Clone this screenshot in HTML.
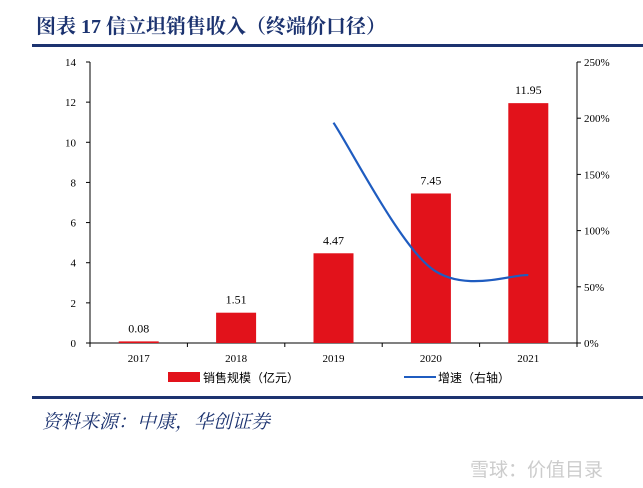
<!DOCTYPE html>
<html><head><meta charset="utf-8"><style>
body{margin:0;width:643px;height:488px;background:#fff;overflow:hidden;position:relative;font-family:"Liberation Serif","Noto Serif CJK SC",serif}
.t{position:absolute;left:36px;top:10px;font-size:20px;font-weight:bold;color:#1c3370;letter-spacing:0px}
.rule{position:absolute;left:32px;width:611px;height:3px;background:#1c3370}
.src{position:absolute;left:42px;top:407px;font-size:19px;font-style:italic;color:#1c3370;font-family:"Liberation Serif","Noto Serif CJK SC",serif}
.wm{position:absolute;left:470px;top:455px;font-size:19px;color:#ccc;font-family:"Liberation Sans","Noto Sans CJK SC",sans-serif}
</style></head><body>
<div class="t">图表 17  信立坦销售收入（终端价口径）</div>
<div class="rule" style="top:44px"></div>
<svg id="c" width="643" height="400" style="position:absolute;left:0;top:0"></svg>
<div class="rule" style="top:396px"></div>
<div class="src">资料来源：中康，华创证券</div>
<div class="wm">雪球：价值目录</div>
<script>
const categories=["2017","2018","2019","2020","2021"];
const sales=[0.08,1.51,4.47,7.45,11.95];
const growth=[null,null,196,66.7,60.4];
const leftTicks=[0,2,4,6,8,10,12,14];
const rightTicks=[0,50,100,150,200,250];
const NS="http://www.w3.org/2000/svg";
const svg=document.getElementById('c');
const x0=90,x1=577,yTop=62,yBot=343;
const yL=v=>yBot-(v/14)*(yBot-yTop);
const yR=v=>yBot-(v/250)*(yBot-yTop);
const bw=(x1-x0)/categories.length;
const xc=i=>x0+bw*(i+0.5);
function mk(t,a,txt){const e=document.createElementNS(NS,t);for(const k in a)e.setAttribute(k,a[k]);if(txt!=null)e.textContent=txt;svg.appendChild(e);return e;}
const F='"Liberation Serif","Noto Serif CJK SC",serif';
let e;
e=mk('line',{x1:x0,y1:yTop,x2:x0,y2:yBot,stroke:'#000'});


e=mk('line',{x1:x1,y1:yTop,x2:x1,y2:yBot,stroke:'#000'});


e=mk('line',{x1:x0-4,y1:yBot,x2:x1+4,y2:yBot,stroke:'#000'});


leftTicks.forEach(v=>{mk('line',{x1:x0-4,y1:yL(v),x2:x0,y2:yL(v),stroke:'#000'});
e=mk('text',{x:76,y:yL(v)+4,'font-size':11,'text-anchor':'end','font-family':F},v);

});
rightTicks.forEach(v=>{mk('line',{x1:x1,y1:yR(v),x2:x1+4,y2:yR(v),stroke:'#000'});
e=mk('text',{x:584,y:yR(v)+4,'font-size':11,'font-family':F},v+'%');

});
for(let i=0;i<=categories.length;i++)mk('line',{x1:x0+bw*i,y1:yBot,x2:x0+bw*i,y2:yBot+4,stroke:'#000'});
categories.forEach((c,i)=>{
e=mk('text',{x:xc(i),y:362,'font-size':11,'text-anchor':'middle','font-family':F},c);


e=mk('rect',{x:xc(i)-20,y:yL(sales[i]),width:40,height:yBot-yL(sales[i]),fill:'#e2121b'});


e=mk('text',{x:xc(i),y:yL(sales[i])-9,'font-size':12,'text-anchor':'middle','font-family':F},sales[i].toFixed(2));


});
const pts=[];growth.forEach((g,i)=>{if(g!=null)pts.push([xc(i),yR(g)]);});
let d='M'+pts[0][0]+','+pts[0][1];
for(let i=0;i<pts.length-1;i++){const p0=pts[i-1]||pts[i],p1=pts[i],p2=pts[i+1],p3=pts[i+2]||p2;
d+=` C${p1[0]+(p2[0]-p0[0])/6},${p1[1]+(p2[1]-p0[1])/6} ${p2[0]-(p3[0]-p1[0])/6},${p2[1]-(p3[1]-p1[1])/6} ${p2[0]},${p2[1]}`;}
e=mk('path',{d:d,fill:'none',stroke:'#1f5cc0','stroke-width':2.2});


e=mk('rect',{x:168,y:372,width:32,height:10,fill:'#e2121b'});


e=mk('text',{x:203,y:382,'font-size':12,'font-family':'"Liberation Sans","Noto Sans CJK SC",sans-serif'},'销售规模（亿元）');


e=mk('line',{x1:404,y1:377,x2:436,y2:377,stroke:'#1f5cc0','stroke-width':2});


e=mk('text',{x:438,y:382,'font-size':12,'font-family':'"Liberation Sans","Noto Sans CJK SC",sans-serif'},'增速（右轴）');


</script>
</body></html>
